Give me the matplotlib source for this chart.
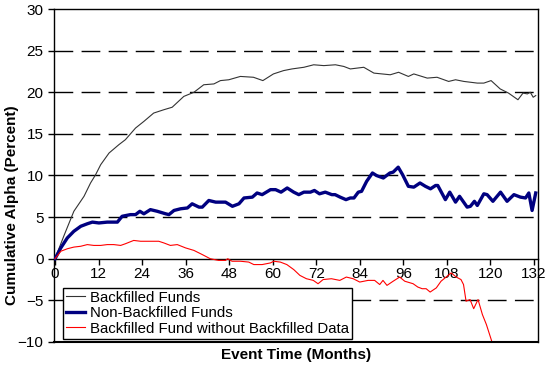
import matplotlib
matplotlib.use("Agg")
import matplotlib.pyplot as plt

plt.rcParams["font.family"] = ["Liberation Sans", "DejaVu Sans"]

# Backfilled Funds (months, cumulative alpha %)
bf_months = [0, 2.5, 5.2, 8.0, 9.8, 11.2, 12.6, 14.9, 17.6, 19.4, 22.2, 24.5,
             27.2, 30.0, 32.3, 35.5, 38.3, 41.0, 43.8, 45.6, 47.9, 51.1, 54.7,
             57.3, 60.2, 63.0, 65.3, 68.6, 71.3, 74.1, 77.3, 79.6, 81.4, 85.1,
             87.9, 92.4, 94.7, 97.4, 98.9, 102.6, 105.3, 108.5, 110.4, 112.7,
             116.4, 118.2, 120.2, 122.7, 125.0, 127.6, 129.0, 130.2, 131.0,
             131.8, 132.5]
bf_alpha = [0, 2.8, 5.7, 7.5, 9.1, 10.1, 11.3, 12.7, 13.7, 14.3, 15.7, 16.5,
            17.5, 17.9, 18.2, 19.5, 20.0, 20.9, 21.0, 21.4, 21.5, 21.9, 21.8,
            21.4, 22.2, 22.6, 22.8, 23.0, 23.3, 23.2, 23.3, 23.1, 22.8, 23.0,
            22.3, 22.1, 22.4, 21.9, 22.2, 21.7, 21.8, 21.3, 21.5, 21.3,
            21.1, 21.1, 21.4, 20.4, 19.9, 19.1, 19.9, 19.8, 20.0,
            19.4, 19.6]

# Non-Backfilled Funds
nb_months = [0, 1.6, 3.4, 5.2, 7.1, 8.9, 10.3, 12.1, 14.4, 17.2, 18.5, 20.8,
             22.2, 23.4, 24.5, 26.3, 28.2, 30.5, 31.4, 32.8, 34.6, 36.5, 37.8,
             39.7, 40.6, 42.4, 44.3, 47.0, 48.9, 50.7, 52.1, 54.4, 55.7, 57.1,
             59.4, 60.8, 62.3, 64.0, 65.8, 67.2, 68.6, 70.4, 71.5, 72.9, 74.5,
             76.3, 77.2, 78.6, 80.2, 81.4, 82.4, 83.6, 84.5, 85.9, 87.5, 88.6,
             90.5, 92.3, 93.2, 94.6, 95.8, 97.4, 98.9, 100.6, 102.1, 103.5,
             104.9, 105.5, 107.6, 108.8, 110.4, 111.5, 113.6, 114.5, 115.6,
             116.4, 118.2, 119.1, 120.7, 122.8, 124.6, 126.5, 128.3, 129.7,
             130.6, 131.5, 132.5]
nb_alpha = [0, 1.3, 2.5, 3.3, 3.9, 4.2, 4.4, 4.3, 4.4, 4.4, 5.1, 5.3,
            5.3, 5.7, 5.4, 5.9, 5.7, 5.4, 5.3, 5.8, 6.0, 6.1, 6.6,
            6.2, 6.2, 7.0, 6.8, 6.8, 6.3, 6.6, 7.3, 7.4, 7.9, 7.7,
            8.3, 8.3, 8.0, 8.5, 8.0, 7.7, 8.0, 8.0, 8.2, 7.8, 8.0,
            7.7, 7.7, 7.4, 7.1, 7.3, 7.3, 8.0, 8.1, 9.3, 10.3, 10.0,
            9.7, 10.3, 10.4, 11.0, 10.1, 8.7, 8.6, 9.1, 8.7, 8.4,
            8.8, 8.8, 7.1, 8.0, 6.8, 7.5, 6.2, 6.3, 6.9,
            6.4, 7.8, 7.7, 6.9, 8.0, 6.9, 7.7, 7.4, 7.3,
            7.9, 5.8, 7.9]

# Backfilled Fund without Backfilled Data
wo_months = [0, 1.6, 3.4, 5.2, 7.1, 8.9, 10.7, 12.6, 14.4, 16.2, 18.1, 19.4,
             21.7, 23.6, 26.3, 28.6, 30.0, 31.8, 33.7, 36.0, 38.3, 40.6, 42.8,
             45.1, 47.0, 47.6, 48.8, 51.1, 53.4, 54.8, 57.1, 59.4, 60.3, 62.1,
             63.9, 65.8, 67.5, 69.3, 71.2, 72.5, 73.9, 76.2, 78.5, 80.3, 82.2,
             84.0, 86.3, 88.1, 89.5, 90.4, 91.5, 93.2, 95.0, 96.4, 98.7, 100.0,
             101.2, 102.3, 103.4, 105.1, 106.4, 107.8, 109.2, 110.6, 111.9,
             112.6, 113.3, 114.4, 115.4, 116.6, 117.8, 118.9, 120.3, 121.0]
wo_alpha = [0, 0.9, 1.2, 1.4, 1.5, 1.7, 1.6, 1.6, 1.7, 1.7, 1.6, 1.8,
            2.2, 2.1, 2.1, 2.1, 1.9, 1.6, 1.7, 1.3, 1.0, 0.5, 0.0,
            -0.2, -0.2, 0.0, -0.3, -0.3, -0.4, -0.7, -0.7, -0.5, -0.3, -0.4,
            -0.7, -1.3, -2.0, -2.4, -2.6, -3.0, -2.5, -2.4, -2.6, -2.2, -2.4,
            -2.8, -2.6, -2.6, -3.1, -2.6, -3.2, -2.7, -2.2, -2.7, -3.0, -3.4,
            -3.6, -3.6, -4.0, -3.5, -2.7, -2.2, -1.7, -2.2, -2.5,
            -3.1, -5.1, -4.9, -6.0, -4.9, -6.7, -7.9, -9.8, -11.0]

x_ticks = list(range(0, 133, 12))
y_ticks = list(range(-10, 31, 5))
grid_levels = [-5, 5, 10, 15, 20, 25]

fig = plt.figure(figsize=(5.5, 3.66), dpi=100)
ax = fig.add_axes([0.098, 0.0656, 0.88, 0.9098])

for v in grid_levels:
    ax.axhline(v, color="black", lw=1, dashes=(13.5, 6), zorder=1)

ax.plot(bf_months, bf_alpha, color="#333333", lw=0.8, label="Backfilled Funds", zorder=3)
ax.plot(nb_months, nb_alpha, color="#000080", lw=2.4, label="Non-Backfilled Funds", zorder=3)
ax.plot(wo_months, wo_alpha, color="#ff0000", lw=0.8,
        label="Backfilled Fund without Backfilled Data", zorder=3)

ax.set_xlim(-0.3, 133.1)
ax.set_ylim(-10, 30)
ax.set_xticks(x_ticks)
ax.set_yticks(y_ticks)
ax.tick_params(axis="both", labelsize=11, direction="out", length=4, width=1)
ax.tick_params(axis="x", pad=2)

ax.spines["bottom"].set_position(("data", 0))
for s in ["left", "right", "top", "bottom"]:
    ax.spines[s].set_linewidth(1)
ax.axhline(-10, color="black", lw=1.5, clip_on=False, zorder=4)

fig.text(0.022, 0.44, "Cumulative Alpha (Percent)", fontsize=11, fontweight="bold",
         rotation=90, ha="center", va="center")
fig.text(0.538, 0.03, "Event Time (Months)", fontsize=11, fontweight="bold",
         ha="center", va="center")

leg = ax.legend(loc="lower left", bbox_to_anchor=(0.018, 0.01), borderaxespad=0,
                fontsize=10.8, fancybox=False, framealpha=1, edgecolor="black",
                handlelength=1.3, handletextpad=0.3, labelspacing=0.1,
                borderpad=0.2)
leg.get_frame().set_linewidth(1)
leg.set_zorder(5)

fig.savefig("out.png", dpi=100)
